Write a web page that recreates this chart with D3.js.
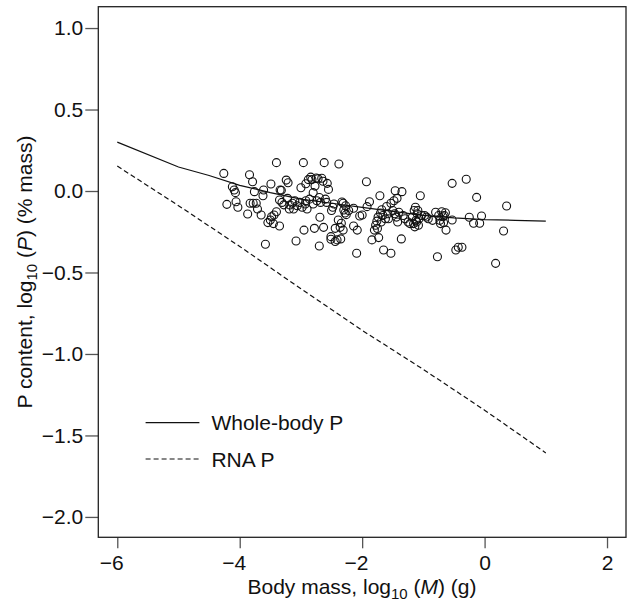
<!DOCTYPE html>
<html>
<head>
<meta charset="utf-8">
<script src="https://cdn.jsdelivr.net/npm/d3@7"></script>
<style>
  body { margin: 0; background: #fff; }
  text { font-family: "Liberation Sans", Arial, Helvetica, sans-serif; fill: #111; }
</style>
</head>
<body>
<script>
// tick values
let xTicks = [-6, -4, -2, 0, 2];
let yTicks = [1.0, 0.5, 0.0, -0.5, -1.0, -1.5, -2.0];

// fitted lines (log10 body mass, log10 P %)
let wholeBodyX = [-6, -5, -4.5, -4, -3.5, -3, -2.5, -2, -1.5, -1, -0.5, 0, 0.5, 1.0];
let wholeBodyY = [0.30, 0.147, 0.095, 0.035, -0.01, -0.05, -0.075, -0.10, -0.125, -0.15, -0.165, -0.175, -0.18, -0.185];

let rnaX = [-6, -5, -4, -3, -2, -1, 0, 1.0];
let rnaY = [0.153, -0.09, -0.34, -0.60, -0.855, -1.095, -1.345, -1.607];

// observed species
let massX = [
  -4.26, -4.21, -4.12, -4.09, -4.07, -4.06, -4.03, -3.87, -3.84, -3.79, -3.83, -3.78, -3.73, -3.76, -3.71, -3.65,
  -3.61, -3.62, -3.58, -3.54, -3.50, -3.49, -3.48, -3.44,
  -3.40, -3.40, -3.35, -3.34, -3.32, -3.35, -3.31, -3.24, -3.21, -3.22, -3.18, -3.19, -3.14, -3.10, -3.08, -3.06,
  -3.02, -3.00, -2.98, -2.96, -2.95, -2.93, -2.92, -2.90, -2.88, -2.86, -2.84, -2.82, -2.80, -2.80, -2.78, -2.77,
  -2.75, -2.74, -2.72, -2.70, -2.70, -2.69, -2.68,
  -2.66, -2.64, -2.62, -2.63, -2.60, -2.57, -2.55, -2.50, -2.51, -2.51, -2.48, -2.44, -2.44, -2.41, -2.39, -2.38,
  -2.36, -2.35, -2.34, -2.33, -2.31, -2.31, -2.30, -2.28, -2.26, -2.27, -2.14, -2.14, -2.09, -2.08, -2.04, -2.00,
  -1.93, -1.92, -1.88, -1.84, -1.80, -1.78, -1.76, -1.74, -1.73, -1.71, -1.70, -1.68, -1.66, -1.65, -1.62, -1.60,
  -1.58, -1.53, -1.53, -1.50, -1.48, -1.46, -1.43, -1.42, -1.40, -1.36, -1.35, -1.33, -1.30, -1.25, -1.22, -1.18,
  -1.15, -1.13, -1.12, -1.10, -1.08, -1.05, -1.03,
  -0.98, -0.92, -0.85, -0.80, -0.77, -0.75, -0.73, -0.70, -0.68, -0.67, -0.64, -0.63, -0.53, -0.53, -0.47, -0.43,
  -0.37, -0.30, -0.25, -0.18, -0.13, -0.08, -0.05, 0.18, 0.31, 0.36,
  -1.14, -1.11, -1.07, -1.09, -1.16, -0.95, -0.72, -0.66, -1.44, -1.47, -1.57, -1.69, -1.75, -2.22, -2.46, -2.58,
  -3.28, -3.12, -2.92, -3.45
];
let contentY = [
  0.108, -0.082, 0.026, 0.006, -0.010, -0.066, -0.100, -0.141, 0.100, 0.057, -0.075, -0.075, -0.075, -0.004, -0.110, -0.147,
  0.006, -0.029, -0.327, -0.194, -0.178, 0.043, -0.158, -0.147,
  0.174, -0.127, -0.215, 0.006, 0.004, -0.055, -0.070, 0.067, 0.051, -0.045, -0.086, -0.110, -0.075, -0.060, -0.307, -0.090,
  -0.070, 0.020, -0.100, 0.174, -0.240, -0.080, 0.045, -0.110, 0.070, -0.050, 0.085, 0.070, -0.010, -0.080, -0.229, 0.030,
  0.080, -0.060, 0.075, -0.337, -0.040, -0.161, -0.070,
  0.078, 0.060, 0.174, -0.223, -0.050, 0.047, 0.010, -0.120, -0.280, -0.296, -0.100, -0.229, -0.310, -0.300, -0.178, 0.166,
  -0.223, -0.294, -0.198, -0.067, -0.075, -0.240, -0.117, -0.135, -0.145, -0.090, -0.215, -0.106, -0.382, -0.240, -0.153, -0.147,
  0.057, -0.096, -0.066, -0.300, -0.240, -0.210, -0.185, -0.160, -0.286, -0.029, -0.135, -0.115, -0.150, -0.362, -0.170, -0.095,
  -0.140, -0.075, -0.382, -0.120, -0.060, 0.002, -0.045, -0.190, -0.130, -0.294, -0.004, -0.150, -0.170, -0.190, -0.200, -0.160,
  -0.120, -0.100, -0.180, -0.140, -0.210, -0.029, -0.150,
  -0.150, -0.170, -0.180, -0.130, -0.403, -0.150, -0.180, -0.127, -0.158, -0.194, -0.133, -0.240, 0.047, -0.178, -0.362, -0.345,
  -0.345, 0.072, -0.161, -0.198, -0.039, -0.198, -0.153, -0.444, -0.245, -0.092,
  -0.220, -0.190, -0.170, -0.120, -0.200, -0.160, -0.200, -0.150, -0.160, -0.140, -0.170, -0.190, -0.230, -0.120, -0.080, -0.070,
  -0.085, -0.110, -0.060, -0.200
];

let svgWidth = 627, svgHeight = 603;
let plotLeft = 98.3, plotRight = 626, plotTop = 6.7, plotBottom = 537.3;

let svg = d3.select("body").append("svg")
    .attr("width", svgWidth)
    .attr("height", svgHeight);

// scales
let xScale = d3.scaleLinear().domain([-6.31, 2.31]).range([plotLeft, plotRight]);
let yScale = d3.scaleLinear().domain([-2.125, 1.131]).range([plotBottom, plotTop]);

// axes
let xAxis = d3.axisBottom(xScale).tickValues(xTicks).tickFormat(d3.format("d"))
    .tickSize(11).tickSizeOuter(0).tickPadding(7);
let yAxis = d3.axisLeft(yScale).tickValues(yTicks).tickFormat(d3.format(".1f"))
    .tickSize(13).tickSizeOuter(0).tickPadding(2);

let gx = svg.append("g")
    .attr("transform", "translate(0," + plotBottom + ")")
    .call(xAxis);
let gy = svg.append("g")
    .attr("transform", "translate(" + plotLeft + ",0)")
    .call(yAxis);

[gx, gy].forEach(function(g) {
    g.select(".domain").remove();
    g.selectAll(".tick line").attr("stroke", "#555").attr("stroke-width", 1.3);
    g.selectAll(".tick text")
        .style("font-size", "21px")
        .style("font-family", '"Liberation Sans", Arial, sans-serif')
        .attr("fill", "#111");
});
// hang the minus sign left of the digit on the x axis
gx.selectAll(".tick text").attr("dx", d => d < 0 ? "-0.29em" : 0);

// frame
svg.append("rect")
    .attr("x", plotLeft).attr("y", plotTop)
    .attr("width", plotRight - plotLeft).attr("height", plotBottom - plotTop)
    .attr("fill", "none").attr("stroke", "#222").attr("stroke-width", 1.3);

// lines
let line = d3.line().x(d => xScale(d[0])).y(d => yScale(d[1]));

svg.append("path")
    .datum(d3.zip(wholeBodyX, wholeBodyY))
    .attr("fill", "none").attr("stroke", "#111").attr("stroke-width", 1.2)
    .attr("d", line);

svg.append("path")
    .datum(d3.zip(rnaX, rnaY))
    .attr("fill", "none").attr("stroke", "#111").attr("stroke-width", 1.2)
    .attr("stroke-dasharray", "5,3")
    .attr("d", line);

// points
svg.append("g").selectAll("circle")
    .data(d3.zip(massX, contentY))
    .join("circle")
    .attr("cx", d => xScale(d[0]))
    .attr("cy", d => yScale(d[1]))
    .attr("r", 4)
    .attr("fill", "none")
    .attr("stroke", "#111")
    .attr("stroke-width", 1.1);

// legend
let legend = [
    { label: "Whole-body P", dash: null, y: 422.6 },
    { label: "RNA P", dash: "5,3", y: 459 }
];
legend.forEach(function(l) {
    svg.append("line")
        .attr("x1", 145.6).attr("x2", 199.4)
        .attr("y1", l.y).attr("y2", l.y)
        .attr("stroke", "#111").attr("stroke-width", 1.2)
        .attr("stroke-dasharray", l.dash);
    svg.append("text")
        .attr("x", 211.4).attr("y", l.y).attr("dy", "0.36em")
        .style("font-size", "21px")
        .text(l.label);
});

// axis titles
let xt = svg.append("text")
    .attr("x", 362).attr("y", 594)
    .attr("text-anchor", "middle")
    .style("font-size", "21px");
xt.append("tspan").text("Body mass, log");
xt.append("tspan").attr("dy", 5).style("font-size", "15px").text("10");
xt.append("tspan").attr("dy", -5).text(" (");
xt.append("tspan").style("font-style", "italic").text("M");
xt.append("tspan").text(") (g)");

let yt = svg.append("text")
    .attr("transform", "translate(32,272) rotate(-90)")
    .attr("text-anchor", "middle")
    .style("font-size", "21px");
yt.append("tspan").text("P content, log");
yt.append("tspan").attr("dy", 5).style("font-size", "15px").text("10");
yt.append("tspan").attr("dy", -5).text(" (");
yt.append("tspan").style("font-style", "italic").text("P");
yt.append("tspan").text(") (% mass)");
</script>
</body>
</html>
